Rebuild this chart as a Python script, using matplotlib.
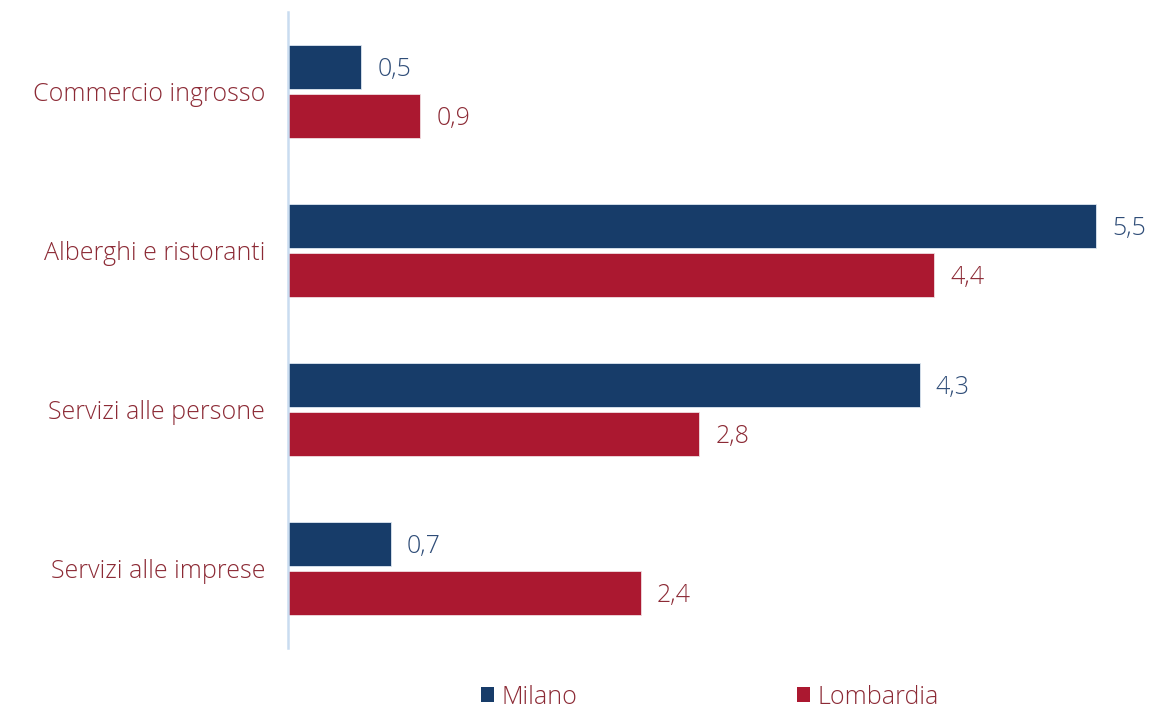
import matplotlib
matplotlib.use("Agg")
import matplotlib.pyplot as plt
from matplotlib.patches import Patch
import numpy as np

categories = ["Commercio ingrosso", "Alberghi e ristoranti", "Servizi alle persone", "Servizi alle imprese"]
milano = [0.5, 5.5, 4.3, 0.7]
lombardia = [0.9, 4.4, 2.8, 2.4]
series_names = ["Milano", "Lombardia"]

NAVY = "#173C69"
RED = "#AB1830"
TXT_RED = "#8C2A35"
TXT_NAVY = "#2F4D78"

plt.rcParams['font.family'] = ['Open Sans', 'DejaVu Sans']
plt.rcParams['font.weight'] = 300

FS = 18

fig = plt.figure(figsize=(11.5, 7.11), dpi=100)
ax = fig.add_axes([288/1150, 1 - 648/711, 862/1150, 636/711])

y = np.arange(len(categories))
h = 0.277
gap = 0.016
ax.barh(y - h/2 - gap, milano, height=h, color=NAVY, edgecolor="#DDE6F0", linewidth=0.6)
ax.barh(y + h/2 + gap, lombardia, height=h, color=RED, edgecolor="#F0DDE0", linewidth=0.6)

for yi, v in zip(y, milano):
    ax.text(v + 0.11, yi - h/2 - gap + 0.015, f"{v:.1f}".replace(".", ","), va="center", ha="left",
            fontsize=FS, color=TXT_NAVY, fontweight=300)
for yi, v in zip(y, lombardia):
    ax.text(v + 0.11, yi + h/2 + gap + 0.015, f"{v:.1f}".replace(".", ","), va="center", ha="left",
            fontsize=FS, color=TXT_RED, fontweight=300)

ax.set_ylim(3.5, -0.5)
ax.set_xlim(0, 862/146.9)
ax.set_yticks(y)
ax.set_yticklabels(categories, fontsize=FS, color=TXT_RED, fontweight=300)
ax.tick_params(axis="y", length=0, pad=16.5)
ax.set_xticks([])
for s in ["top", "right", "bottom"]:
    ax.spines[s].set_visible(False)
ax.spines["left"].set_color("#C9DCF0")
ax.spines["left"].set_linewidth(1.8)

handles = [Patch(facecolor=NAVY, label=series_names[0]), Patch(facecolor=RED, label=series_names[1])]
leg = fig.legend(handles=handles, loc="center", bbox_to_anchor=(710/1150, 1 - 697/711), ncol=2,
                 frameon=False, prop={"size": FS, "weight": 300}, handlelength=0.52, handleheight=0.52,
                 handletextpad=0.3, columnspacing=8.76, borderpad=0.1)
for t in leg.get_texts():
    t.set_color(TXT_RED)

fig.savefig("out.png", dpi=100)
